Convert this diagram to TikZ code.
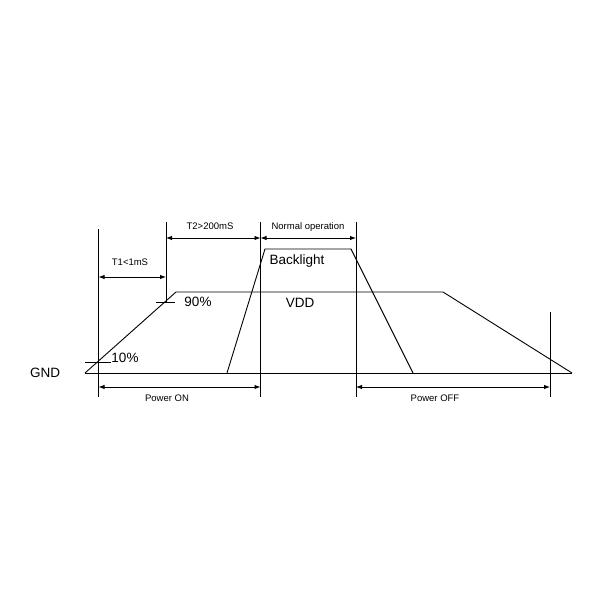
\documentclass[tikz,border=0pt]{standalone}
\usepackage{fontspec}
\setmainfont{Liberation Sans}
\usetikzlibrary{arrows.meta}
\begin{document}
\begin{tikzpicture}[x=1pt,y=-1pt,
  ln/.style={line width=0.9pt,black},
  dim/.style={line width=0.9pt,{Latex[length=6pt,width=4.5pt]}-{Latex[length=6pt,width=4.5pt]}},
  big/.style={font=\fontsize{13.5}{14}\selectfont,inner sep=0pt},
  small/.style={font=\fontsize{9.5}{10}\selectfont,inner sep=0pt}]
\useasboundingbox (0,0) rectangle (600,600);
% coordinates
\coordinate (g0) at (85,373);
\coordinate (g1) at (572,373);
\coordinate (v1) at (176,292);
\coordinate (v2) at (443,292);
\coordinate (b0) at (227,373);
\coordinate (b1) at (265,249);
\coordinate (b2) at (351,249);
\coordinate (b3) at (413,373);
% vertical lines
\coordinate (L1t) at (98.5,229); \coordinate (L1b) at (98.5,397);
\coordinate (L2t) at (166,222); \coordinate (L2b) at (166,303);
\coordinate (L3t) at (260.5,222); \coordinate (L3b) at (260.5,397);
\coordinate (L4t) at (356,222); \coordinate (L4b) at (356,397);
\coordinate (L5t) at (550,312); \coordinate (L5b) at (550,397);
\draw[ln] (L1t) -- (L1b);
\draw[ln] (L2t) -- (L2b);
\draw[ln] (L3t) -- (L3b);
\draw[ln] (L4t) -- (L4b);
\draw[ln] (L5t) -- (L5b);
% baseline
\draw[ln] (g0) -- (g1);
% VDD
\draw[ln] (g0) -- (v1) -- (v2) -- (g1);
% Backlight
\draw[ln] (b0) -- (b1) -- (b2) -- (b3);
% ticks
\coordinate (t90a) at (156,302); \coordinate (t90b) at (175,302);
\draw[ln] (t90a) -- (t90b);
\coordinate (t10a) at (85,362); \coordinate (t10b) at (111,362);
\draw[ln] (t10a) -- (t10b);
% dimension arrows
\coordinate (a1l) at (98.5,277); \coordinate (a1r) at (166,277);
\draw[dim] (a1l) -- (a1r);
\coordinate (a2l) at (166,238); \coordinate (a2r) at (260.5,238);
\draw[dim] (a2l) -- (a2r);
\coordinate (a3l) at (260.5,238); \coordinate (a3r) at (356,238);
\draw[dim] (a3l) -- (a3r);
\coordinate (a4l) at (98.5,387); \coordinate (a4r) at (260.5,387);
\draw[dim] (a4l) -- (a4r);
\coordinate (a5l) at (356,387); \coordinate (a5r) at (550,387);
\draw[dim] (a5l) -- (a5r);
% labels
\node[small] (lt1) at (130,262) {T1<1mS};
\node[small] (lt2) at (210,226) {T2>200mS};
\node[small] (lno) at (308,227) {Normal operation};
\node[small] (lon) at (167,398) {Power ON};
\node[small] (loff) at (435,398) {Power OFF};
\node[big] (lgnd) at (45,373) {GND};
\node[big] (l90) at (198,302) {90\%};
\node[big] (l10) at (125,358) {10\%};
\node[big] (lbl) at (297,261) {Backlight};
\node[big] (lvdd) at (300,303) {VDD};
\end{tikzpicture}
\end{document}
